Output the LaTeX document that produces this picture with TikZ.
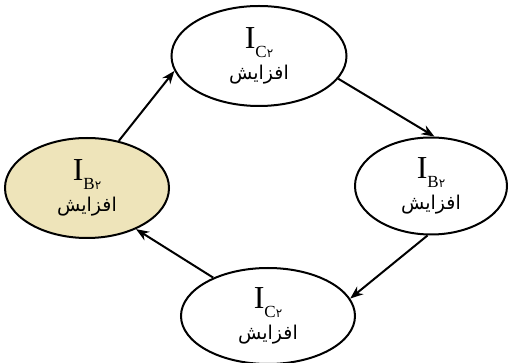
\documentclass[tikz,border=0pt]{standalone}
\usepackage{fontspec}
\setmainfont{Liberation Serif}
\newfontfamily\ar[Script=Arabic]{DejaVu Sans}
\TeXXeTstate=1
\usetikzlibrary{shapes.geometric,arrows.meta}
\definecolor{tan}{RGB}{238,228,186}
\newcommand{\lbl}[1]{{\fontsize{32}{32}\selectfont I}\raisebox{-9pt}{\fontsize{17}{17}\selectfont #1{\ar\fontsize{12}{12}\selectfont ۲}}\\[6pt]{\ar\fontsize{19}{19}\selectfont\beginR افزایش\endR}}
\begin{document}
\begin{tikzpicture}[x=1pt,y=-1pt,
  el/.style={ellipse,draw=black,line width=2pt,inner sep=0pt,align=center},
  conn/.style={line width=2pt,-{Stealth[length=13pt,width=10pt]}}]
\useasboundingbox (0,0) rectangle (509,363);
\node[el,minimum width=175pt,minimum height=100pt] (top) at (259,56) {\lbl{C}};
\node[el,minimum width=152pt,minimum height=97pt] (right) at (431,186) {\lbl{B}};
\node[el,fill=tan,minimum width=164pt,minimum height=100pt] (left) at (87,188) {\lbl{B}};
\node[el,minimum width=174pt,minimum height=96pt] (bottom) at (268,316) {\lbl{C}};
\draw[conn] (left.56) -- (top.190);
\draw[conn] (top.-16) -- (right.86);
\draw[conn] (right.266) -- (bottom.12);
\draw[conn] (bottom.145) -- (left.-40);
\end{tikzpicture}
\end{document}
